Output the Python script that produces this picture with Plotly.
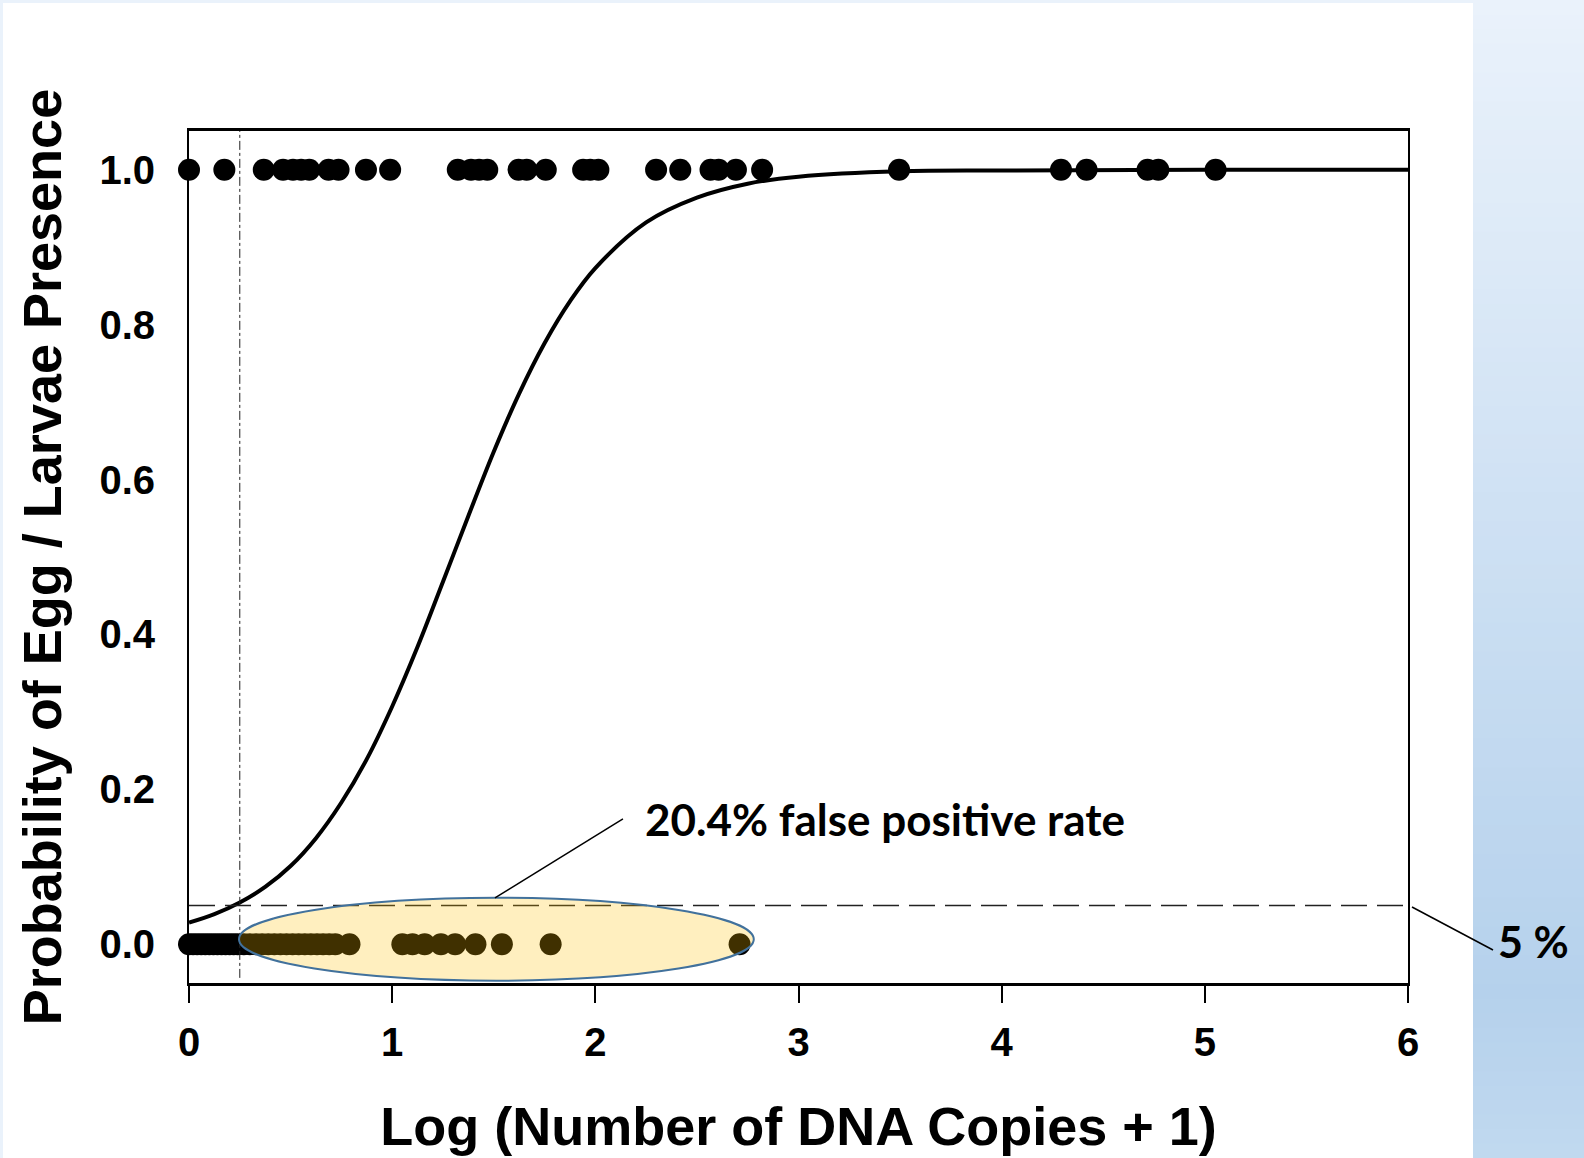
import plotly.graph_objects as go

# ---------------- data ----------------
present_x = [0.0, 0.174, 0.368, 0.463, 0.512, 0.552, 0.592, 0.687, 0.736, 0.871, 0.990,
             1.323, 1.388, 1.428, 1.468, 1.622, 1.662, 1.756, 1.940, 1.975, 2.015,
             2.299, 2.418, 2.567, 2.607, 2.692, 2.821, 3.495, 4.292, 4.418, 4.718,
             4.771, 5.053]
absent_x = [0.0, 0.02, 0.04, 0.06, 0.08, 0.10, 0.12, 0.14, 0.16, 0.18, 0.20, 0.22, 0.24,
            0.27, 0.30, 0.33, 0.36, 0.39, 0.42, 0.45, 0.48, 0.51, 0.54, 0.57, 0.60,
            0.63, 0.66, 0.69, 0.72, 0.79, 1.05, 1.10, 1.16, 1.24, 1.31, 1.41, 1.54,
            1.78, 2.71]
curve_x = [0.0, 0.125, 0.25, 0.375, 0.5, 0.625, 0.75, 0.875, 1.0, 1.125, 1.25, 1.375,
           1.5, 1.625, 1.75, 1.875, 2.0, 2.25, 2.5, 2.75, 3.0, 3.5, 4.0, 5.0, 6.0]
curve_y = [0.028, 0.039, 0.054, 0.074, 0.101, 0.137, 0.183, 0.239, 0.307, 0.384,
           0.468, 0.553, 0.636, 0.711, 0.776, 0.830, 0.873, 0.932, 0.964, 0.982,
           0.991, 0.998, 0.999, 1.0, 1.0]
threshold_y = 0.05
threshold_x = 0.25
x_ticks = [0, 1, 2, 3, 4, 5, 6]
y_ticks = [0.0, 0.2, 0.4, 0.6, 0.8, 1.0]
y_tick_labels = ["0.0", "0.2", "0.4", "0.6", "0.8", "1.0"]

# ---------------- figure ----------------
fig = go.Figure()

fig.add_trace(go.Scatter(x=curve_x, y=curve_y, mode="lines",
                         line=dict(color="black", width=4, shape="spline", smoothing=1.0),
                         hoverinfo="skip", showlegend=False))
fig.add_trace(go.Scatter(x=present_x, y=[1.0] * len(present_x), mode="markers",
                         marker=dict(color="black", size=22), cliponaxis=False,
                         showlegend=False))
fig.add_trace(go.Scatter(x=absent_x, y=[0.0] * len(absent_x), mode="markers",
                         marker=dict(color="black", size=22), cliponaxis=False,
                         showlegend=False))

L, R, T, B = 189, 176, 131, 175
W, H = 1584, 1158
pw, ph = W - L - R, H - T - B


def px(xp):
    return (xp - L) / pw


def py(yp):
    return (H - B - yp) / ph


shapes = []
# outer white panel
shapes.append(dict(type="rect", xref="paper", yref="paper", x0=px(3), x1=px(1473),
                   y0=py(1160), y1=py(3), fillcolor="white", line=dict(width=0),
                   layer="below"))
# gradient strip on the right
stops = [(0.0, (234, 242, 251)), (0.86, (181, 209, 236)), (1.0, (193, 217, 239))]
n = 80
for i in range(n):
    t = (i + 0.5) / n
    for j in range(len(stops) - 1):
        if stops[j][0] <= t <= stops[j + 1][0]:
            a, ca = stops[j]
            b, cb = stops[j + 1]
            f = (t - a) / (b - a)
            c = tuple(int(round(ca[k] + (cb[k] - ca[k]) * f)) for k in range(3))
            break
    y_top = H * i / n
    y_bot = H * (i + 1) / n
    shapes.append(dict(type="rect", xref="paper", yref="paper", x0=px(1473), x1=px(W + 2),
                       y0=py(y_bot + 1), y1=py(y_top), fillcolor="rgb(%d,%d,%d)" % c,
                       line=dict(width=0), layer="below"))

# threshold lines
shapes.append(dict(type="line", xref="x", yref="y", x0=0, x1=6, y0=threshold_y, y1=threshold_y,
                   line=dict(color="#222222", width=1.5, dash="26px,10px")))
shapes.append(dict(type="line", xref="x", yref="paper", x0=threshold_x, x1=threshold_x,
                   y0=0.006, y1=1, line=dict(color="#222222", width=1, dash="dashdot")))
# highlight ellipse
shapes.append(dict(type="circle", xref="x", yref="y", x0=0.246, x1=2.78, y0=-0.047, y1=0.060,
                   fillcolor="rgba(255,192,0,0.25)", line=dict(color="#41719C", width=2),
                   layer="above"))
# leader lines
shapes.append(dict(type="line", xref="x", yref="y", x0=1.506, y0=0.060, x1=2.136, y1=0.162,
                   line=dict(color="black", width=1.5)))
shapes.append(dict(type="line", xref="paper", yref="paper", x0=px(1412), y0=py(907),
                   x1=px(1493), y1=py(950), line=dict(color="black", width=1.5)))

annotations = [
    dict(text="<b>20.4% false positive rate</b>", xref="x", yref="y", x=2.235, y=0.162,
         xanchor="left", yanchor="middle", showarrow=False,
         font=dict(family="Lato", size=44, color="black")),
    dict(text="<b>5 %</b>", xref="paper", yref="paper", x=px(1533), y=py(941),
         xanchor="center", yanchor="middle", showarrow=False,
         font=dict(family="Lato", size=43, color="black")),
]

fig.update_layout(
    width=W, height=H,
    margin=dict(l=L, r=R, t=T, b=B, pad=0),
    paper_bgcolor="#EAF2FB", plot_bgcolor="white",
    shapes=shapes, annotations=annotations,
    font=dict(family="Liberation Sans, Arial", color="black"),
    xaxis=dict(range=[0, 6], tickvals=x_ticks, ticktext=[str(v) for v in x_ticks],
               showgrid=False, zeroline=False, showline=True, linecolor="black",
               linewidth=2.5, mirror=True, ticks="outside", ticklen=17, tickwidth=1.5,
               tickcolor="black", ticklabelstandoff=5,
               tickfont=dict(family="Liberation Sans, Arial", size=40, weight="bold"),
               title=dict(text="<b>Log (Number of DNA Copies + 1)</b>", standoff=45,
                          font=dict(family="Liberation Sans, Arial", size=54))),
    yaxis=dict(range=[-0.05, 1.05], tickvals=y_ticks, ticktext=y_tick_labels,
               showgrid=False, zeroline=False, showline=True, linecolor="black",
               linewidth=2, mirror=True, ticks="", ticklabelstandoff=24,
               tickfont=dict(family="Liberation Sans, Arial", size=40, weight="bold"),
               title=dict(text="<b>Probability of Egg / Larvae Presence</b>", standoff=20,
                          font=dict(family="Liberation Sans, Arial", size=54))),
)

fig.write_html("out.html")
